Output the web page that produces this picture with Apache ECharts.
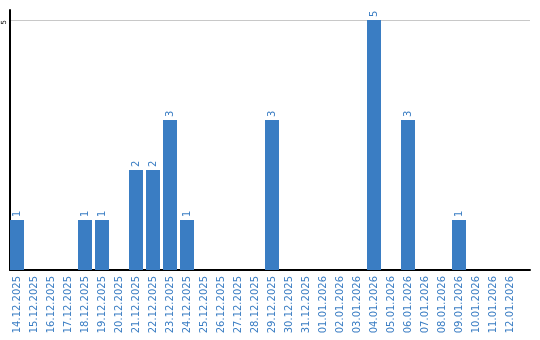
<!DOCTYPE html>
<html><head><meta charset="utf-8">
<script src="https://cdn.jsdelivr.net/npm/echarts@6/dist/echarts.min.js"></script>
<style>html,body{margin:0;padding:0;background:#fff}#c{width:540px;height:340px}</style>
</head><body><div id="c"></div>
<script>
const categories = ["14.12.2025","15.12.2025","16.12.2025","17.12.2025","18.12.2025","19.12.2025","20.12.2025","21.12.2025","22.12.2025","23.12.2025","24.12.2025","25.12.2025","26.12.2025","27.12.2025","28.12.2025","29.12.2025","30.12.2025","31.12.2025","01.01.2026","02.01.2026","03.01.2026","04.01.2026","05.01.2026","06.01.2026","07.01.2026","08.01.2026","09.01.2026","10.01.2026","11.01.2026","12.01.2026"];
const values = [1,0,0,0,1,1,0,2,2,3,1,0,0,0,0,3,0,0,0,0,0,5,0,3,0,0,1,0,0,0];
const yTicks = [5];
const blue = '#3a7dc3';
const chart = echarts.init(document.getElementById('c'), null, {renderer:'canvas'});
chart.setOption({
  animation:false,
  grid:[
    {left:8.5,right:21.5,top:10,bottom:70,containLabel:false},
    {left:10,right:10,top:10,bottom:70,containLabel:false}
  ],
  xAxis:[
    {type:'category',data:categories,gridIndex:0,
      axisLine:{show:false},axisTick:{show:false},
      axisLabel:{interval:0,rotate:90,color:blue,fontSize:10,fontFamily:'DejaVu Sans',margin:6}},
    {type:'value',gridIndex:1,min:0,max:1,
      axisLine:{show:true,onZero:false,lineStyle:{color:'#000',width:2}},
      axisTick:{show:false},axisLabel:{show:false},splitLine:{show:false}}
  ],
  yAxis:[
    {type:'value',gridIndex:0,min:0,max:5.2,
      axisLine:{show:false},axisTick:{show:false},axisLabel:{show:false},splitLine:{show:false}},
    {type:'value',gridIndex:1,min:0,max:5.2,interval:5,
      axisLine:{show:true,onZero:false,lineStyle:{color:'#000',width:2}},
      axisTick:{show:false},
      axisLabel:{rotate:90,fontSize:7,color:'#000',fontFamily:'DejaVu Sans',margin:6,
        align:'right',verticalAlign:'middle',
        formatter:v=>yTicks.includes(v)?String(v):''},
      splitLine:{show:true,showMinLine:false,showMaxLine:false,lineStyle:{color:'#c8c8c8',width:1}}}
  ],
  series:[{type:'bar',xAxisIndex:0,yAxisIndex:0,data:values,barWidth:14,
    itemStyle:{color:blue},
    label:{show:true,position:'top',rotate:90,align:'left',verticalAlign:'middle',distance:3,
      color:blue,fontSize:10,fontFamily:'DejaVu Sans',formatter:p=>p.value?String(p.value):''}}]
});
</script></body></html>
